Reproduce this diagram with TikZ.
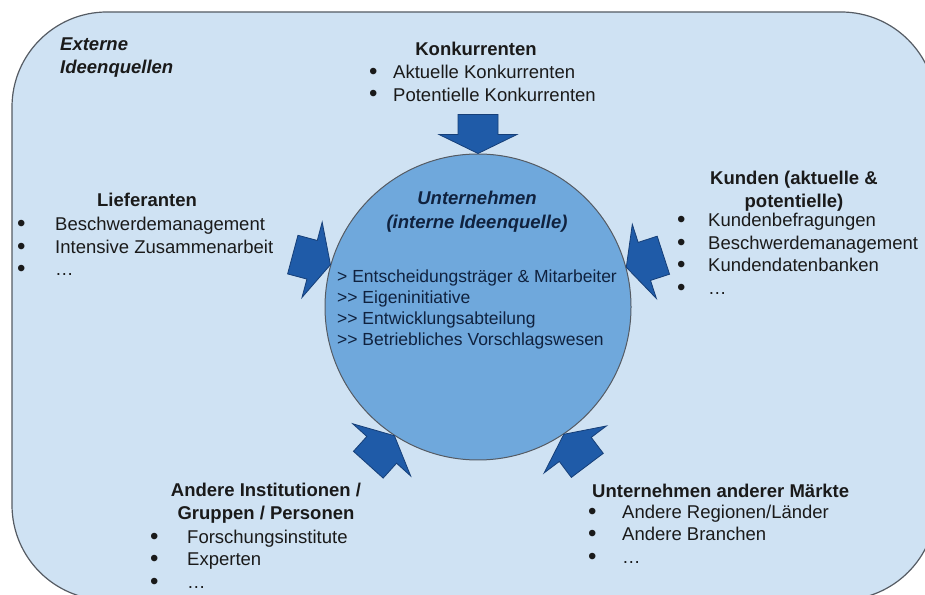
\documentclass[tikz,border=0pt]{standalone}
\usepackage{fontspec}
\setmainfont{Liberation Sans}
\usepackage{xcolor}
\usepackage{graphicx}
\definecolor{bgblue}{HTML}{CFE2F3}
\definecolor{coreblue}{HTML}{6FA8DC}
\definecolor{arrblue}{HTML}{1F5BA8}
\definecolor{arrline}{HTML}{163F78}
\definecolor{rimgray}{HTML}{555B63}
\definecolor{txt}{HTML}{1A1A1A}
\definecolor{navy}{HTML}{10223F}
\usetikzlibrary{positioning}
\newcommand\bitem[2][30pt]{\makebox[#1][l]{\raisebox{-0.8pt}{\scalebox{1.3}{\textbullet}}}#2\strut}
\newcommand\dblgt{>\kern0pt>}

\begin{document}
\begin{tikzpicture}[x=1pt, y=1pt,
  font=\fontsize{18.5}{22.5}\selectfont, text=txt,
  L/.style={inner sep=0pt, align=left, anchor=north west},
  H/.style={inner sep=0pt, align=center, font=\fontsize{18.5}{22.5}\selectfont\bfseries},
  core/.style={circle, draw=rimgray, fill=coreblue, line width=1pt,
    minimum size=306pt, inner sep=0pt},
  inarrow/.pic={\draw[fill=arrblue, draw=arrline, line width=0.8pt, line join=miter]
    (0,0) -- (-19,39) -- (-19,20) -- (-39,20) -- (-39,-20) -- (-19,-20) -- (-19,-39) -- cycle;}
]
  \useasboundingbox (0,0) rectangle (925,594);
  % outer frame
  \draw[fill=bgblue, draw=rimgray, line width=1.2pt, rounded corners=95pt]
    (12,582) rectangle (936,-6);
  \node[L, font=\fontsize{18.5}{23}\selectfont\bfseries\itshape] (ext) at (60,560)
    {\strut Externe\\Ideenquellen};

  % centre
  \node[core] (uc) at (478,287) {};
  \node[H, anchor=north, text=navy, font=\fontsize{18.5}{24}\selectfont\bfseries\itshape]
    (uch) at (477,406) {\strut Unternehmen\\(interne Ideenquelle)};
  \node[L, text=navy, font=\fontsize{17.5}{21}\selectfont] (ucb) at (337,326)
    {\strut> Entscheidungsträger \& Mitarbeiter\\
     \dblgt{} Eigeninitiative\\
     \dblgt{} Entwicklungsabteilung\\
     \dblgt{} Betriebliches Vorschlagswesen};

  % sources
  \node[H, anchor=base] (konh) at (476,538) {Konkurrenten};
  \node[L] (konl) at (369,531.25)
    {\bitem[24pt]{Aktuelle Konkurrenten}\\ \bitem[24pt]{Potentielle Konkurrenten}};

  \node[H, anchor=base] (lieh) at (147,387) {Lieferanten};
  \node[L] (liel) at (17,379)
    {\bitem[38pt]{Beschwerdemanagement}\\ \bitem[38pt]{Intensive Zusammenarbeit}\\
     \bitem[38pt]{\dots}};

  \node[H, anchor=north] (kunh) at (794,425) {\strut Kunden (aktuelle \&\\potentielle)};
  \node[L] (kunl) at (677,383)
    {\bitem[31pt]{Kundenbefragungen}\\ \bitem[31pt]{Beschwerdemanagement}\\
     \bitem[31pt]{Kundendatenbanken}\\ \bitem[31pt]{\dots}};

  \node[H, anchor=north] (andh) at (266,113) {\strut Andere Institutionen /\\Gruppen / Personen};
  \node[L] (andl) at (150,66.75)
    {\bitem[37pt]{Forschungsinstitute}\\ \bitem[37pt]{Experten}\\ \bitem[37pt]{\dots}};

  \node[H, anchor=base west] (umh) at (592,97) {Unternehmen anderer Märkte};
  \node[L] (uml) at (588,91.75)
    {\bitem[34pt]{Andere Regionen/Länder}\\ \bitem[34pt]{Andere Branchen}\\
     \bitem[34pt]{\dots}};

  % inflow arrows
  \pic[rotate=-90] at (uc.90) {inarrow};
  \pic[rotate=-15] at (uc.164) {inarrow};
  \pic[rotate=-162] at (uc.15) {inarrow};
  \pic[rotate=48] at (uc.237) {inarrow};
  \pic[rotate=127] at (uc.304) {inarrow};
\end{tikzpicture}
\end{document}
